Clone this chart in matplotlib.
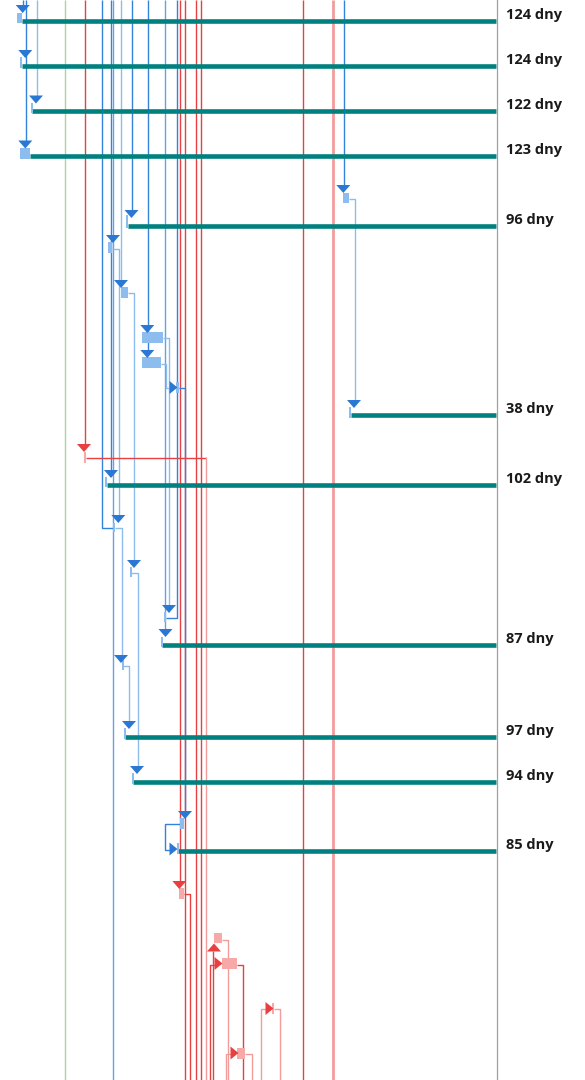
import matplotlib.pyplot as plt
from matplotlib.patches import Rectangle

# Colours used by the project view
teal = '#00807F'
blue = '#3383DA'
mid_blue = '#62A2E6'
light_blue = '#8CBDEE'
tri_blue = '#2B78D4'
red = '#E84040'
light_red = '#F29C9C'
rect_red = '#F7A9A9'
green = '#A9D69F'
grey = '#A0A0A0'

# Summary rows: lane position, start day, duration label
row_y = [21, 66, 111, 156, 226, 415, 485, 645, 737, 782, 851]
row_start = [22, 22, 32, 30, 128, 351, 107, 162, 125, 133, 178]
row_label = ["124 dny", "124 dny", "122 dny", "123 dny", "96 dny", "38 dny",
             "102 dny", "87 dny", "97 dny", "94 dny", "85 dny"]
status_day = 496

# Task bars (start, finish, top, bottom)
blue_tasks = [(17, 22, 13, 23), (20, 22, 57, 68), (31, 32.5, 103, 113), (20, 30, 148, 159),
              (126, 128, 215, 228), (349, 351, 407, 418), (105, 107, 477, 487),
              (161, 162.5, 637, 647), (124, 125.5, 728, 739), (132, 133.5, 773, 784),
              (177, 178.5, 843, 854), (108, 112, 242, 253), (121, 128, 287, 298),
              (142, 163, 332, 343), (142, 161, 357, 368), (176, 179, 382, 393),
              (343, 349, 193, 203), (113, 115, 523, 532), (130, 131.5, 567, 577),
              (164, 165.5, 612, 622), (122, 123.5, 660, 670), (180, 184, 818, 829)]
red_tasks = [(84, 86, 452, 463), (179, 184, 888, 899), (214, 222, 933, 943),
             (222, 237, 958, 969), (272, 274, 1003, 1014), (237, 245, 1048, 1059)]

# Straight dependency lines (day, from, to, colour, width)
link_lines = [(184.5, 0, 1080, red, 1), (22.5, 0, 6, blue, 1), (25.5, 0, 141, blue, 1),
              (36.5, 0, 96, light_blue, 1), (64.5, 0, 1080, green, 1), (84.5, 0, 445, red, 1),
              (110.5, 0, 470, blue, 1), (112.5, 0, 1080, mid_blue, 1),
              (120.5, 0, 281, light_blue, 1), (131.5, 0, 211, blue, 1),
              (147.5, 0, 351, blue, 1), (164.5, 0, 630, mid_blue, 1),
              (179.5, 0, 882, red, 1), (195.5, 0, 1080, red, 1), (200.5, 0, 1080, red, 1),
              (302.5, 0, 1080, red, 1), (333, 0, 1080, light_red, 2),
              (343.5, 0, 186, blue, 1), (212.5, 951, 1080, red, 1)]

# Routed dependency links (list of day/lane points)
link_paths = [
    ([101.5, 101.5, 113], [0, 527.5, 527.5], blue),
    ([112, 118.5, 118.5], [248.5, 248.5, 515], light_blue),
    ([128, 133.5, 133.5], [292.5, 292.5, 560], light_blue),
    ([163, 168.5, 168.5], [337.5, 337.5, 605], light_blue),
    ([161, 165.5, 165.5, 170], [363.5, 363.5, 387.5, 387.5], light_blue),
    ([179, 184.5, 184.5], [387.5, 387.5, 812], blue),
    ([349, 354.5, 354.5], [198.5, 198.5, 400], light_blue),
    ([86, 206], [457.5, 457.5], red),
    ([206, 206], [457, 1080], light_red),
    ([115, 121.5, 121.5], [527.5, 527.5, 655], light_blue),
    ([131, 137.5, 137.5], [572.5, 572.5, 767], light_blue),
    ([176.5, 176.5, 166], [0, 617.5, 617.5], blue),
    ([123, 128.5, 128.5], [665.5, 665.5, 722], light_blue),
    ([180, 164.5, 164.5, 170], [823.5, 823.5, 849.5, 849.5], blue),
    ([184, 189.5, 189.5], [893.5, 893.5, 1080], red),
    ([209.5, 209.5, 215], [1080, 964.5, 964.5], red),
    ([222, 227.5, 227.5], [939.5, 939.5, 1080], light_red),
    ([237, 242.5, 242.5], [964.5, 964.5, 1080], red),
    ([225.5, 225.5, 231], [1080, 1053.5, 1053.5], light_red),
    ([245, 251.5, 251.5], [1053.5, 1053.5, 1080], light_red),
    ([260.5, 260.5, 266], [1080, 1008.5, 1008.5], light_red),
    ([274, 279.5, 279.5], [1008.5, 1008.5, 1080], light_red),
]

# Milestone arrows (day, lane, direction, colour)
arrows = [(22.7, 9, 'down', tri_blue), (25.3, 54, 'down', tri_blue), (36, 99.5, 'down', tri_blue),
          (25.3, 144.5, 'down', tri_blue), (131.5, 214, 'down', tri_blue),
          (113, 239, 'down', tri_blue), (121, 284, 'down', tri_blue),
          (147.3, 329, 'down', tri_blue), (147.3, 354, 'down', tri_blue),
          (343.3, 189, 'down', tri_blue), (354, 404, 'down', tri_blue),
          (111, 474, 'down', tri_blue), (118.3, 519, 'down', tri_blue),
          (134, 564, 'down', tri_blue), (169, 609, 'down', tri_blue),
          (165.5, 633, 'down', tri_blue), (121, 659, 'down', tri_blue),
          (129, 725, 'down', tri_blue), (137, 770, 'down', tri_blue),
          (185, 815, 'down', tri_blue), (173.5, 387.5, 'right', tri_blue),
          (173.5, 849, 'right', tri_blue), (84, 448, 'down', red), (179.3, 885, 'down', red),
          (214, 947.5, 'up', red), (218.5, 963.5, 'right', red),
          (269.5, 1008.5, 'right', red), (234.5, 1053, 'right', red)]


def draw_arrow(ax, x, y, direction, color):
    """Draw one flat triangle head centred on (x, y)."""
    if direction == 'down':
        xs, ys = [x - 7, x + 7, x], [y - 4, y - 4, y + 4]
    elif direction == 'up':
        xs, ys = [x - 7, x + 7, x], [y + 4, y + 4, y - 4]
    else:
        xs, ys = [x - 4, x - 4, x + 4], [y - 6.5, y + 6.5, y]
    ax.fill(xs, ys, color=color, lw=0, zorder=6)


fig = plt.figure(figsize=(5.85, 10.8), dpi=100)
ax = fig.add_axes([0, 0, 1, 1])
ax.set_xlim(0, 585)
ax.set_ylim(1080, 0)
ax.axis('off')

# Dependency lines go underneath everything
for x, y0, y1, c, w in link_lines:
    ax.plot([x, x], [y0, y1], color=c, lw=1.0 * w, solid_capstyle='butt', zorder=1)
for xs, ys, c in link_paths:
    ax.plot(xs, ys, color=c, lw=1.0, solid_joinstyle='round', solid_capstyle='butt', zorder=2)

# Summary bars with the remaining duration on the right
for y, s, lab in zip(row_y, row_start, row_label):
    ax.plot([s, status_day], [y, y], color=teal, lw=3.3, solid_capstyle='butt', zorder=3)
    ax.text(status_day + 10, y - 6, lab, fontsize=10.5, fontweight='bold',
            family=['Open Sans', 'DejaVu Sans'], color='#1a1a1a', va='center', ha='left')

ax.plot([status_day + 0.5, status_day + 0.5], [0, 1080], color=grey, lw=0.9, zorder=4)

# Task bars
for x0, x1, y0, y1 in blue_tasks:
    ax.add_patch(Rectangle((x0, y0), x1 - x0, y1 - y0, color=light_blue, lw=0, zorder=5))
for x0, x1, y0, y1 in red_tasks:
    ax.add_patch(Rectangle((x0, y0), x1 - x0, y1 - y0, color=rect_red, lw=0, zorder=5))

for x, y, d, c in arrows:
    draw_arrow(ax, x, y, d, c)

plt.savefig('out.png', dpi=100)
